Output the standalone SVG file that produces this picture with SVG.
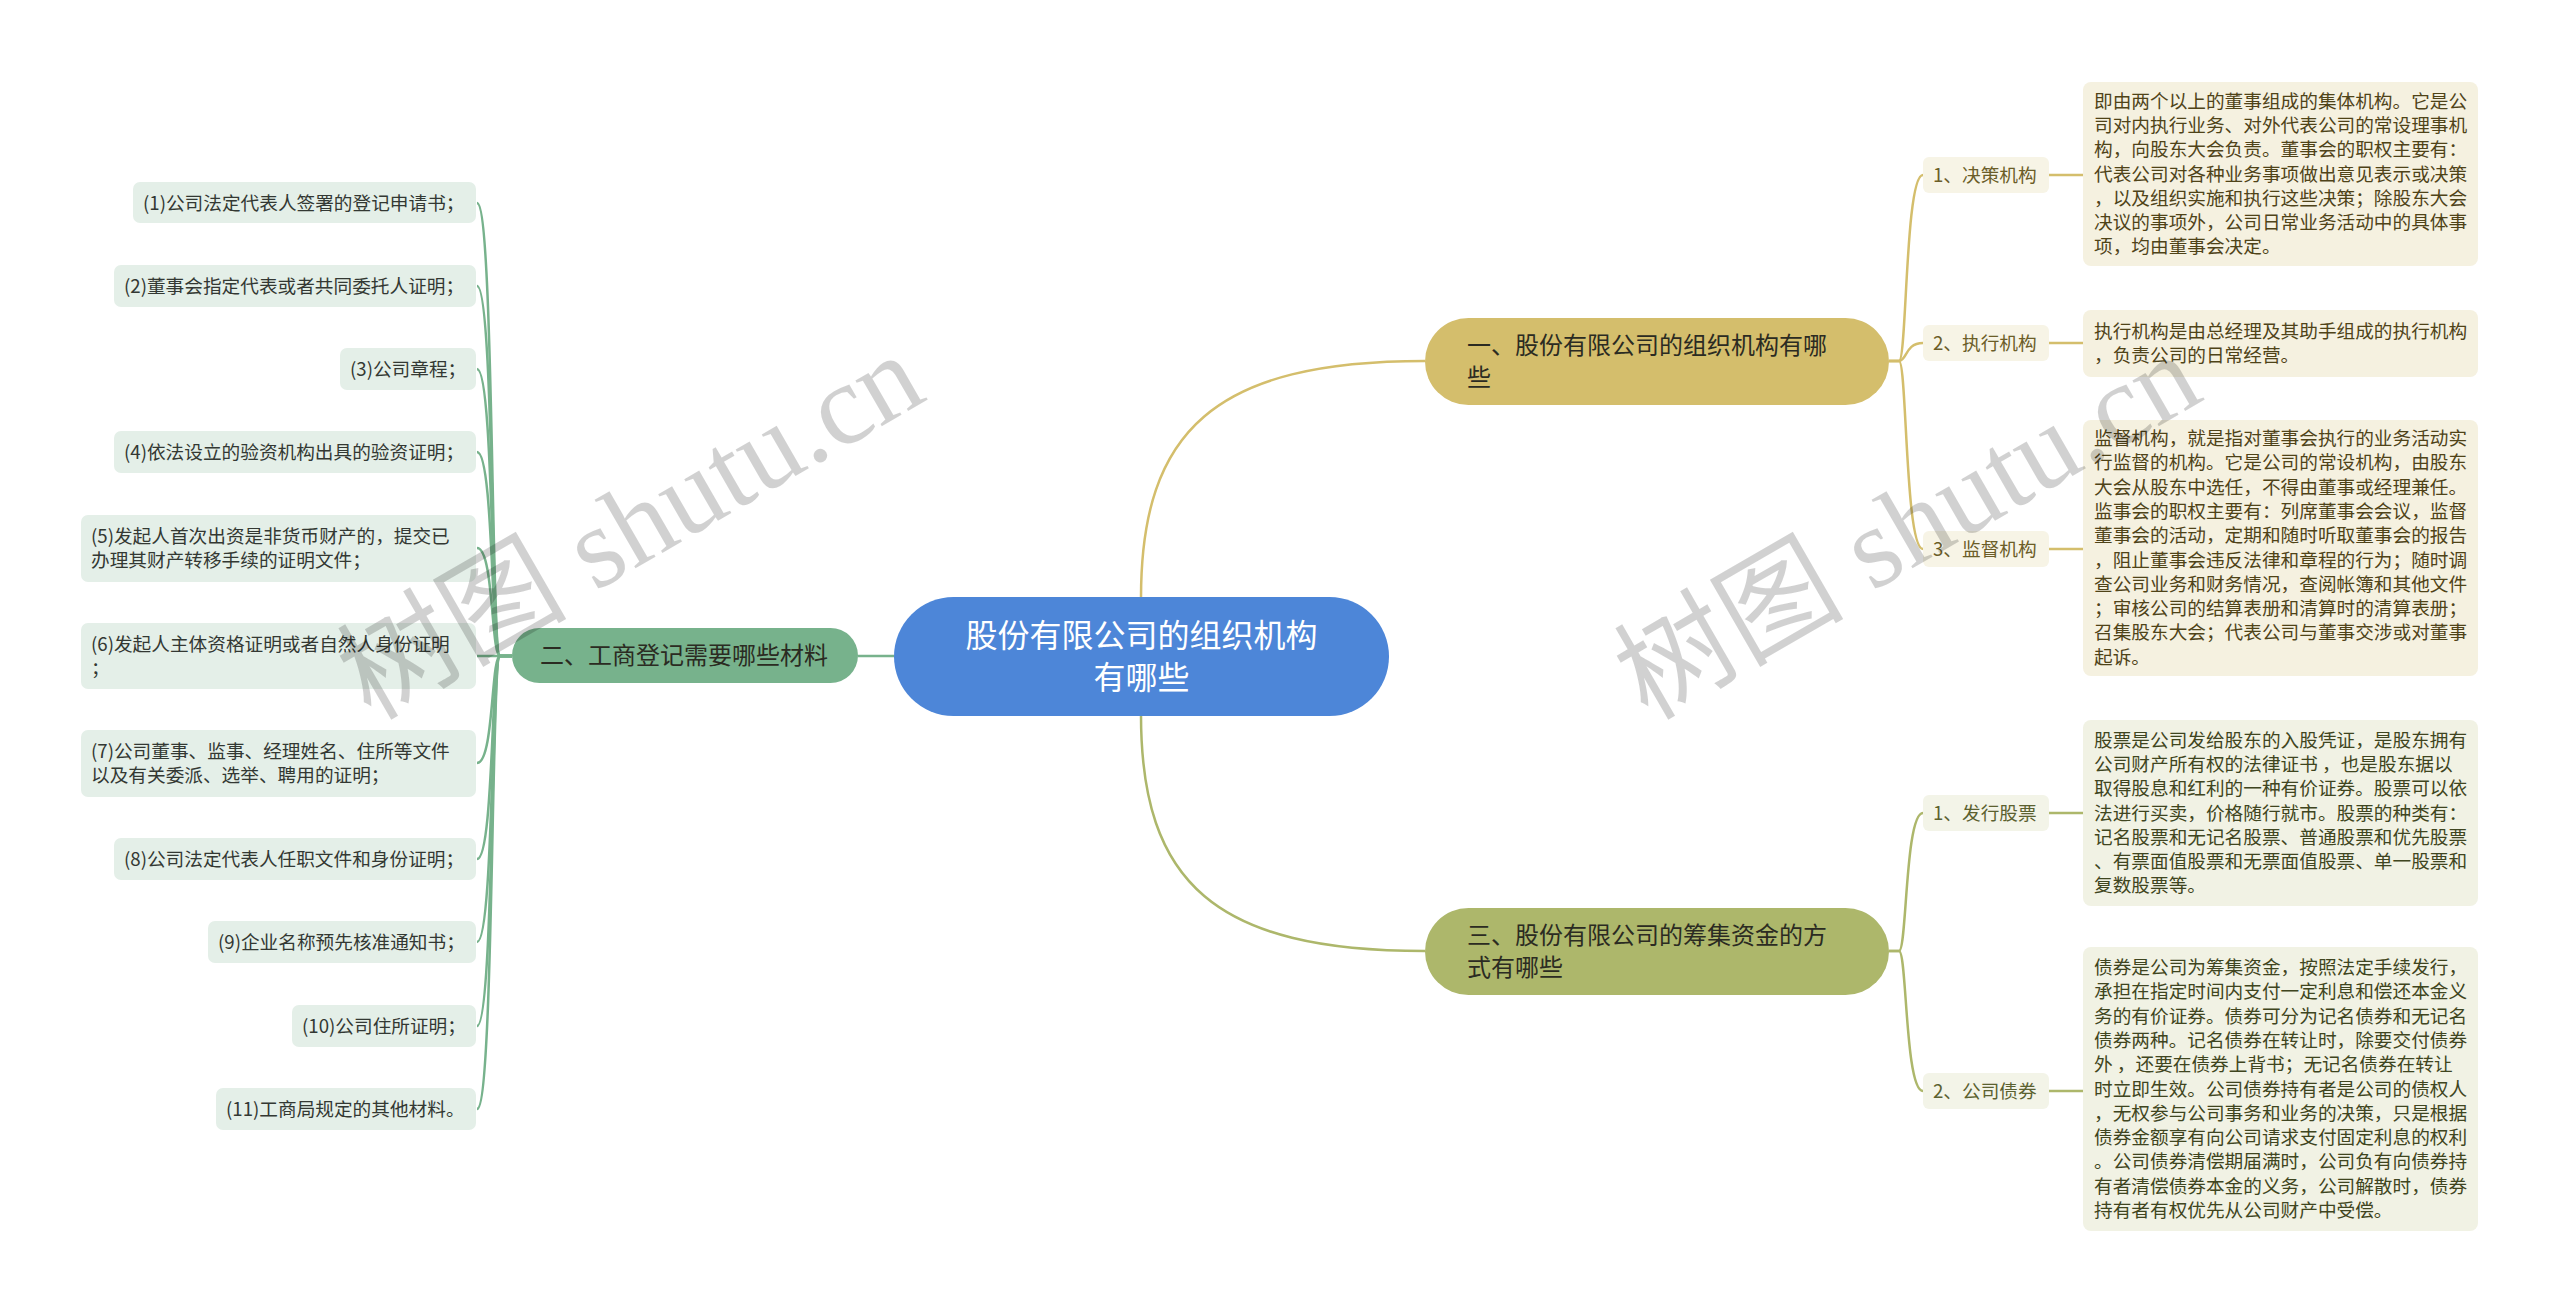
<svg xmlns="http://www.w3.org/2000/svg" width="2560" height="1313" viewBox="0 0 2560 1313">
<style>
text{font-family:"Noto Sans CJK SC","Liberation Sans",sans-serif;}
.root{fill:#4d86d8;}
.rt{fill:#ffffff;font-size:32px;text-anchor:middle;}
.m1{fill:#d4be6c;}
.m2{fill:#77b28c;}
.m3{fill:#adb76b;}
.mt{fill:#2b2b22;font-size:24px;}
.item{fill:#e4efe8;}
.it{fill:#333833;font-size:18.67px;}
.lab1{fill:#f7f4e6;}
.lab3{fill:#f3f4e8;}
.lt1{fill:#6b5d28;font-size:18.67px;}
.lt3{fill:#5b6130;font-size:18.67px;}
.box1{fill:#f5f1e0;}
.box3{fill:#f1f2e4;}
.bt1{fill:#4f4318;font-size:18.67px;}
.bt3{fill:#3f4520;font-size:18.67px;}
.cg{fill:none;stroke:#d4be6c;stroke-width:2.5;}
.cgr{fill:none;stroke:#77b28c;stroke-width:2.5;}
.co{fill:none;stroke:#adb76b;stroke-width:2.5;}
.wm{font-family:"Liberation Serif","Noto Sans CJK SC",serif;font-size:115px;fill:#000;fill-opacity:0.18;text-anchor:middle;}
</style>
<rect width="2560" height="1313" fill="#ffffff"/>
<g id="connectors">
<path class="cg" stroke-width="3" d="M 1141 598 C 1141 430 1215 361 1425 361"/>
<path class="co" stroke-width="3" d="M 1141 715 C 1141 883 1215 951 1425 951"/>
<path class="cgr" stroke-width="3" d="M 894 656 H 858"/>
<path class="cg" d="M 1889 361 H 1899 C 1907 361 1905 175 1923 175"/>
<path class="cg" d="M 1889 361 H 1899 C 1907 361 1905 343 1923 343"/>
<path class="cg" d="M 1889 361 H 1899 C 1907 361 1905 549 1923 549"/>
<path class="cg" d="M 2049 175 H 2083"/>
<path class="cg" d="M 2049 343 H 2083"/>
<path class="cg" d="M 2049 549 H 2083"/>
<path class="co" d="M 1889 951 H 1899 C 1907 951 1905 813 1923 813"/>
<path class="co" d="M 1889 951 H 1899 C 1907 951 1905 1091 1923 1091"/>
<path class="co" d="M 2049 813 H 2083"/>
<path class="co" d="M 2049 1091 H 2083"/>
<path class="cgr" d="M 512 656 H 500 C 491 656 494 203 477 203"/>
<path class="cgr" d="M 512 656 H 500 C 491 656 494 286 477 286"/>
<path class="cgr" d="M 512 656 H 500 C 491 656 494 369 477 369"/>
<path class="cgr" d="M 512 656 H 500 C 491 656 494 452 477 452"/>
<path class="cgr" d="M 512 656 H 500 C 491 656 494 548 477 548"/>
<path class="cgr" d="M 512 656 H 477"/>
<path class="cgr" d="M 512 656 H 500 C 491 656 494 763 477 763"/>
<path class="cgr" d="M 512 656 H 500 C 491 656 494 859 477 859"/>
<path class="cgr" d="M 512 656 H 500 C 491 656 494 942 477 942"/>
<path class="cgr" d="M 512 656 H 500 C 491 656 494 1026 477 1026"/>
<path class="cgr" d="M 512 656 H 500 C 491 656 494 1109 477 1109"/>
</g>
<g id="root">
<rect class="root" x="894" y="597" width="495" height="119" rx="59.5"/>
<text class="rt" x="1141.5" y="647">股份有限公司的组织机构</text>
<text class="rt" x="1141.5" y="689">有哪些</text>
</g>
<g id="n1">
<rect class="m1" x="1425" y="318" width="464" height="87" rx="43.5"/>
<text class="mt" x="1467" y="354">一、股份有限公司的组织机构有哪</text>
<text class="mt" x="1467" y="386">些</text>
</g>
<g id="n2">
<rect class="m2" x="512" y="628" width="346" height="55" rx="27.5"/>
<text class="mt" x="540" y="664" fill="#24352a">二、工商登记需要哪些材料</text>
</g>
<g id="n3">
<rect class="m3" x="1425" y="908" width="464" height="87" rx="43.5"/>
<text class="mt" x="1467" y="944">三、股份有限公司的筹集资金的方</text>
<text class="mt" x="1467" y="976">式有哪些</text>
</g>
<g id="n1-1"><rect class="lab1" x="1923" y="157" width="126" height="36" rx="6"/><text class="lt1" x="1933" y="182">1、决策机构</text></g>
<g id="n1-2"><rect class="lab1" x="1923" y="325" width="126" height="36" rx="6"/><text class="lt1" x="1933" y="350">2、执行机构</text></g>
<g id="n1-3"><rect class="lab1" x="1923" y="531" width="126" height="36" rx="6"/><text class="lt1" x="1933" y="556">3、监督机构</text></g>
<g id="n3-1"><rect class="lab3" x="1923" y="795" width="126" height="36" rx="6"/><text class="lt3" x="1933" y="820">1、发行股票</text></g>
<g id="n3-2"><rect class="lab3" x="1923" y="1073" width="126" height="36" rx="6"/><text class="lt3" x="1933" y="1098">2、公司债券</text></g>
<g id="d1-1">
<rect class="box1" x="2083" y="82" width="395" height="184" rx="8"/>
<text class="bt1" x="2094" y="107.6">即由两个以上的董事组成的集体机构。它是公</text>
<text class="bt1" x="2094" y="131.9">司对内执行业务、对外代表公司的常设理事机</text>
<text class="bt1" x="2094" y="156.2">构，向股东大会负责。董事会的职权主要有：</text>
<text class="bt1" x="2094" y="180.5">代表公司对各种业务事项做出意见表示或决策</text>
<text class="bt1" x="2094" y="204.8">，以及组织实施和执行这些决策；除股东大会</text>
<text class="bt1" x="2094" y="229.1">决议的事项外，公司日常业务活动中的具体事</text>
<text class="bt1" x="2094" y="253.4">项，均由董事会决定。</text>
</g>
<g id="d1-2">
<rect class="box1" x="2083" y="310" width="395" height="67" rx="8"/>
<text class="bt1" x="2094" y="338">执行机构是由总经理及其助手组成的执行机构</text>
<text class="bt1" x="2094" y="362.3">，负责公司的日常经营。</text>
</g>
<g id="d1-3">
<rect class="box1" x="2083" y="420" width="395" height="256" rx="8"/>
<text class="bt1" x="2094" y="445">监督机构，就是指对董事会执行的业务活动实</text>
<text class="bt1" x="2094" y="469.3">行监督的机构。它是公司的常设机构，由股东</text>
<text class="bt1" x="2094" y="493.6">大会从股东中选任，不得由董事或经理兼任。</text>
<text class="bt1" x="2094" y="517.9">监事会的职权主要有：列席董事会会议，监督</text>
<text class="bt1" x="2094" y="542.2">董事会的活动，定期和随时听取董事会的报告</text>
<text class="bt1" x="2094" y="566.5">，阻止董事会违反法律和章程的行为；随时调</text>
<text class="bt1" x="2094" y="590.8">查公司业务和财务情况，查阅帐簿和其他文件</text>
<text class="bt1" x="2094" y="615.1">；审核公司的结算表册和清算时的清算表册；</text>
<text class="bt1" x="2094" y="639.4">召集股东大会；代表公司与董事交涉或对董事</text>
<text class="bt1" x="2094" y="663.7">起诉。</text>
</g>
<g id="d3-1">
<rect class="box3" x="2083" y="720" width="395" height="186" rx="8"/>
<text class="bt3" x="2094" y="746.6">股票是公司发给股东的入股凭证，是股东拥有</text>
<text class="bt3" x="2094" y="770.9">公司财产所有权的法律证书 ，也是股东据以</text>
<text class="bt3" x="2094" y="795.2">取得股息和红利的一种有价证券。股票可以依</text>
<text class="bt3" x="2094" y="819.5">法进行买卖，价格随行就市。股票的种类有：</text>
<text class="bt3" x="2094" y="843.8">记名股票和无记名股票、普通股票和优先股票</text>
<text class="bt3" x="2094" y="868.1">、有票面值股票和无票面值股票、单一股票和</text>
<text class="bt3" x="2094" y="892.4">复数股票等。</text>
</g>
<g id="d3-2">
<rect class="box3" x="2083" y="947" width="395" height="284" rx="8"/>
<text class="bt3" x="2094" y="974">债券是公司为筹集资金，按照法定手续发行，</text>
<text class="bt3" x="2094" y="998.3">承担在指定时间内支付一定利息和偿还本金义</text>
<text class="bt3" x="2094" y="1022.6">务的有价证券。债券可分为记名债券和无记名</text>
<text class="bt3" x="2094" y="1046.9">债券两种。记名债券在转让时，除要交付债券</text>
<text class="bt3" x="2094" y="1071.2">外 ，还要在债券上背书；无记名债券在转让</text>
<text class="bt3" x="2094" y="1095.5">时立即生效。公司债券持有者是公司的债权人</text>
<text class="bt3" x="2094" y="1119.8">，无权参与公司事务和业务的决策，只是根据</text>
<text class="bt3" x="2094" y="1144.1">债券金额享有向公司请求支付固定利息的权利</text>
<text class="bt3" x="2094" y="1168.4">。公司债券清偿期届满时，公司负有向债券持</text>
<text class="bt3" x="2094" y="1192.7">有者清偿债券本金的义务，公司解散时，债券</text>
<text class="bt3" x="2094" y="1217">持有者有权优先从公司财产中受偿。</text>
</g>
<g id="i1"><rect class="item" x="133" y="182" width="343" height="41" rx="7"/><text class="it" x="143" y="209.5">(1)公司法定代表人签署的登记申请书；</text></g>
<g id="i2"><rect class="item" x="114" y="265" width="362" height="42" rx="7"/><text class="it" x="124" y="292.5">(2)董事会指定代表或者共同委托人证明；</text></g>
<g id="i3"><rect class="item" x="340" y="348" width="136" height="42" rx="7"/><text class="it" x="350" y="375.5">(3)公司章程；</text></g>
<g id="i4"><rect class="item" x="114" y="431" width="362" height="42" rx="7"/><text class="it" x="124" y="458.5">(4)依法设立的验资机构出具的验资证明；</text></g>
<g id="i5"><rect class="item" x="81" y="515" width="395" height="67" rx="7"/><text class="it" x="91" y="542.5">(5)发起人首次出资是非货币财产的，提交已</text><text class="it" x="91" y="566.5">办理其财产转移手续的证明文件；</text></g>
<g id="i6"><rect class="item" x="81" y="623" width="395" height="66" rx="7"/><text class="it" x="91" y="650.5">(6)发起人主体资格证明或者自然人身份证明</text><text class="it" x="91" y="674.5">；</text></g>
<g id="i7"><rect class="item" x="81" y="730" width="395" height="67" rx="7"/><text class="it" x="91" y="757.5">(7)公司董事、监事、经理姓名、住所等文件</text><text class="it" x="91" y="781.5">以及有关委派、选举、聘用的证明；</text></g>
<g id="i8"><rect class="item" x="114" y="838" width="362" height="42" rx="7"/><text class="it" x="124" y="865.5">(8)公司法定代表人任职文件和身份证明；</text></g>
<g id="i9"><rect class="item" x="208" y="921" width="268" height="42" rx="7"/><text class="it" x="218" y="948.5">(9)企业名称预先核准通知书；</text></g>
<g id="i10"><rect class="item" x="292" y="1005" width="184" height="42" rx="7"/><text class="it" x="302" y="1032.5">(10)公司住所证明；</text></g>
<g id="i11"><rect class="item" x="216" y="1088" width="260" height="42" rx="7"/><text class="it" x="226" y="1115.5">(11)工商局规定的其他材料。</text></g>
<g id="watermarks">
<text class="wm" transform="translate(650 560) rotate(-30)">树图 shutu.cn</text>
<text class="wm" transform="translate(1927 560) rotate(-30)">树图 shutu.cn</text>
</g>
</svg>
